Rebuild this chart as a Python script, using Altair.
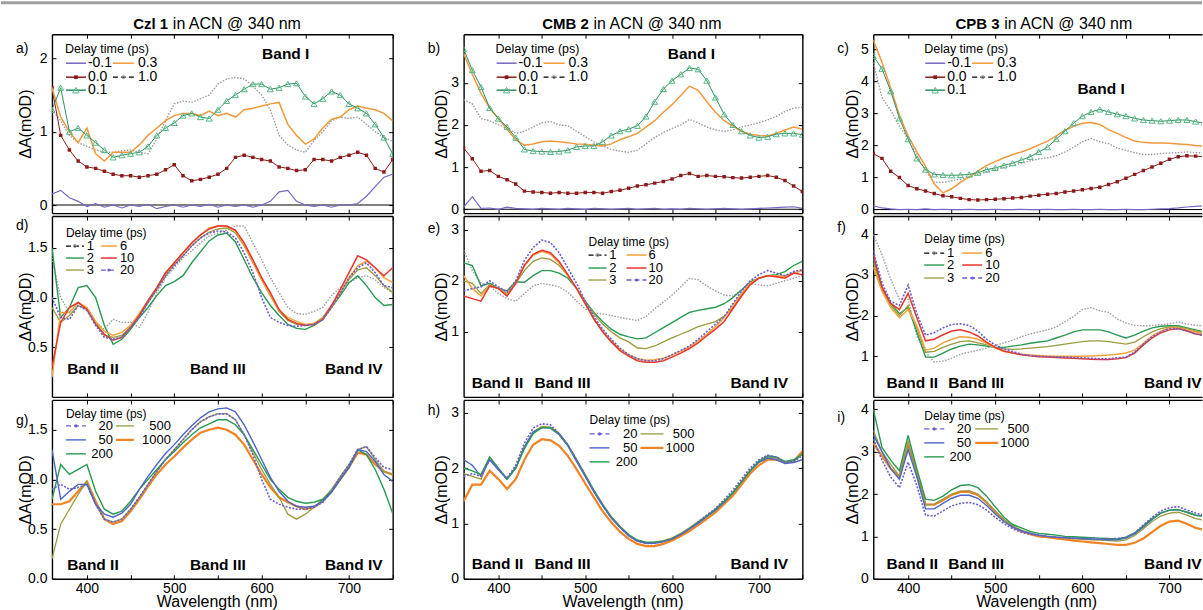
import altair as alt
import pandas as pd

# ---------------- data (10 nm grid) ----------------
WL = list(range(360, 751, 10))

# Row 1 : delay times -0.1, 0.0, 0.1, 0.3, 1.0 ps
A_M01 = [0.15,0.2,0.1,0.05,-0.02,0.02,-0.03,0.0,-0.04,0.0,-0.02,0.01,-0.05,-0.02,0.0,-0.03,0.0,-0.02,0.01,-0.03,
         0.0,-0.02,0.0,-0.03,0.0,0.05,0.18,0.2,0.05,0.0,-0.02,0.0,-0.03,0.0,0.0,0.02,0.12,0.25,0.38,0.42]
A_00 = [1.6,0.95,0.75,0.6,0.52,0.5,0.46,0.42,0.4,0.4,0.38,0.4,0.42,0.48,0.55,0.4,0.33,0.35,0.38,0.42,
        0.5,0.65,0.68,0.65,0.62,0.6,0.52,0.5,0.47,0.48,0.62,0.62,0.6,0.65,0.68,0.72,0.68,0.5,0.45,0.62]
A_01 = [1.3,1.6,1.0,1.05,0.95,0.85,0.75,0.65,0.68,0.7,0.72,0.8,0.95,1.05,1.12,1.22,1.25,1.2,1.18,1.3,
        1.42,1.5,1.58,1.65,1.65,1.58,1.6,1.65,1.66,1.48,1.38,1.45,1.55,1.5,1.38,1.32,1.25,1.1,0.92,0.7]
A_03 = [1.6,1.2,1.0,0.85,1.05,0.7,0.6,0.72,0.72,0.72,0.82,0.95,1.05,1.15,1.22,1.25,1.25,1.22,1.28,1.22,
        1.25,1.2,1.3,1.32,1.35,1.38,1.4,1.1,0.95,0.83,0.9,1.05,1.17,1.2,1.3,1.35,1.32,1.3,1.25,1.15]
A_10 = [1.3,1.15,0.95,0.85,0.8,0.75,0.72,0.72,0.74,0.75,0.72,0.7,0.9,1.15,1.38,1.42,1.4,1.45,1.5,1.65,
        1.72,1.74,1.72,1.62,1.5,1.3,0.95,0.82,0.75,0.72,0.88,1.0,1.15,1.2,1.18,1.2,1.1,1.0,0.92,0.87]

B_M01 = [0.05,0.3,0.02,0.03,0.0,0.05,0.02,0.01,0.0,0.02,0.01,0.0,0.02,0.01,0.0,0.02,0.01,0.0,0.01,0.02,
         0.0,0.01,0.02,0.0,0.01,0.0,0.02,0.01,0.0,0.01,0.02,0.01,0.0,0.01,0.02,0.03,0.04,0.05,0.06,0.02]
B_00 = [1.45,1.2,0.9,0.92,0.78,0.7,0.6,0.43,0.41,0.4,0.38,0.4,0.38,0.38,0.4,0.4,0.38,0.42,0.45,0.5,
        0.55,0.58,0.62,0.66,0.72,0.8,0.85,0.78,0.8,0.78,0.77,0.75,0.74,0.76,0.78,0.8,0.76,0.68,0.55,0.42]
B_01 = [3.8,3.3,2.9,2.4,2.15,1.95,1.7,1.42,1.38,1.37,1.36,1.37,1.4,1.48,1.5,1.5,1.6,1.75,1.85,1.9,
        1.98,2.2,2.55,2.85,3.05,3.2,3.35,3.32,3.05,2.65,2.25,2.0,1.85,1.75,1.7,1.72,1.78,1.8,1.8,1.77]
B_03 = [3.7,3.2,2.75,2.4,2.15,1.9,1.65,1.52,1.55,1.6,1.62,1.6,1.58,1.55,1.54,1.52,1.5,1.55,1.65,1.72,
        1.8,1.95,2.1,2.3,2.48,2.7,2.92,2.82,2.55,2.3,2.1,1.97,1.85,1.78,1.75,1.74,1.8,1.88,1.95,1.9]
B_10 = [2.6,2.5,2.15,2.1,2.0,1.92,1.8,1.85,1.95,2.05,2.08,2.0,1.98,1.85,1.72,1.6,1.5,1.42,1.38,1.35,
        1.4,1.55,1.7,1.82,1.92,2.0,2.13,2.05,1.95,1.88,1.85,1.88,1.95,2.0,2.05,2.12,2.2,2.32,2.4,2.42]

C_M01 = [0.12,0.05,0.02,0.0,0.01,0.0,0.02,0.0,0.01,0.0,0.0,0.01,0.0,0.0,0.01,0.0,0.0,0.01,0.0,0.0,
         0.01,0.0,0.0,0.01,0.0,0.0,0.01,0.0,0.0,0.01,0.0,0.0,0.01,0.02,0.03,0.05,0.08,0.1,0.12,0.1]
C_00 = [1.75,1.6,1.2,1.0,0.75,0.65,0.58,0.5,0.43,0.4,0.35,0.31,0.3,0.31,0.32,0.34,0.36,0.38,0.42,0.45,
        0.48,0.5,0.55,0.58,0.62,0.66,0.7,0.78,0.87,0.98,1.1,1.22,1.33,1.45,1.57,1.65,1.68,1.67,1.65,1.64]
C_01 = [4.8,4.4,3.7,2.85,2.2,1.6,1.25,1.1,1.08,1.07,1.08,1.1,1.15,1.25,1.3,1.38,1.45,1.55,1.65,1.8,
        1.95,2.2,2.45,2.7,2.92,3.05,3.13,3.05,2.98,2.92,2.85,2.8,2.78,2.76,2.78,2.8,2.8,2.75,2.7,2.68]
C_03 = [5.3,4.6,3.8,2.95,2.3,1.8,1.35,0.8,0.52,0.65,0.85,1.02,1.2,1.38,1.5,1.62,1.72,1.8,1.9,2.02,
        2.14,2.3,2.48,2.6,2.7,2.72,2.66,2.5,2.38,2.25,2.14,2.1,2.08,2.08,2.07,2.05,2.03,2.0,1.98,1.97]
C_10 = [4.6,3.5,3.1,2.6,2.2,1.7,1.2,0.85,0.85,0.9,0.95,1.0,1.1,1.18,1.25,1.32,1.38,1.45,1.52,1.58,
        1.62,1.68,1.8,1.95,2.12,2.22,2.12,2.06,1.92,1.85,1.78,1.72,1.72,1.75,1.77,1.78,1.8,1.78,1.77,1.75]

# Row 2 : delay times 1, 2, 3, 6, 10, 20 ps
D_1 = [1.4,1.0,0.85,0.95,0.9,0.75,0.68,0.78,0.75,0.75,0.7,0.85,1.05,1.2,1.3,1.4,1.47,1.55,1.62,1.65,
       1.68,1.72,1.72,1.55,1.38,1.2,1.05,0.9,0.84,0.83,0.86,0.9,1.02,1.1,1.15,1.2,1.22,1.18,1.1,1.05]
D_2 = [1.5,0.8,0.9,1.1,1.12,1.0,0.72,0.53,0.58,0.68,0.8,0.9,1.02,1.12,1.16,1.22,1.35,1.46,1.57,1.63,
       1.65,1.56,1.38,1.2,1.05,0.92,0.82,0.73,0.69,0.68,0.72,0.78,0.9,1.02,1.15,1.22,1.12,1.0,0.92,0.93]
D_3 = [0.9,0.75,0.82,0.92,0.88,0.75,0.62,0.6,0.62,0.7,0.82,0.95,1.08,1.22,1.33,1.42,1.52,1.6,1.66,1.69,
       1.7,1.65,1.52,1.35,1.18,1.02,0.86,0.77,0.73,0.72,0.74,0.8,0.92,1.05,1.18,1.28,1.3,1.22,1.12,1.05]
D_6 = [0.2,0.85,0.85,0.95,0.9,0.76,0.66,0.62,0.65,0.72,0.84,0.97,1.1,1.24,1.35,1.45,1.55,1.63,1.7,1.72,
       1.72,1.67,1.53,1.36,1.18,1.02,0.87,0.8,0.76,0.73,0.74,0.79,0.9,1.05,1.2,1.32,1.37,1.3,1.2,1.15]
D_10 = [0.3,0.75,0.9,0.95,0.88,0.73,0.63,0.57,0.6,0.7,0.82,0.97,1.1,1.25,1.35,1.45,1.55,1.63,1.69,1.72,
        1.72,1.68,1.55,1.38,1.2,1.05,0.88,0.78,0.74,0.72,0.73,0.78,0.92,1.08,1.25,1.42,1.38,1.3,1.22,1.3]
D_20 = [1.0,0.8,0.78,0.92,0.87,0.72,0.6,0.58,0.6,0.7,0.8,0.95,1.08,1.22,1.32,1.42,1.52,1.6,1.65,1.67,
        1.66,1.6,1.45,1.25,1.0,0.8,0.75,0.72,0.71,0.72,0.73,0.78,0.9,1.04,1.2,1.3,1.35,1.25,1.12,1.1]

E_1 = [2.6,2.2,1.95,1.9,1.75,1.65,1.6,1.75,1.9,1.95,1.92,1.88,1.78,1.6,1.45,1.37,1.35,1.32,1.28,1.25,
       1.22,1.3,1.45,1.58,1.72,1.88,2.05,2.02,1.9,1.8,1.72,1.7,1.82,1.95,1.92,1.9,1.95,2.0,2.05,2.1]
E_2 = [2.35,2.3,1.9,1.95,1.85,1.8,1.98,1.97,2.1,2.2,2.2,2.15,2.05,1.85,1.6,1.38,1.2,1.05,0.95,0.9,
       0.86,0.88,0.98,1.08,1.18,1.28,1.38,1.42,1.45,1.48,1.55,1.67,1.82,1.98,2.05,2.1,2.12,2.18,2.3,2.38]
E_3 = [2.0,1.95,1.75,1.92,1.85,1.75,1.95,2.2,2.38,2.45,2.42,2.3,2.1,1.85,1.6,1.35,1.15,1.0,0.88,0.8,
       0.68,0.67,0.72,0.8,0.88,0.95,1.02,1.1,1.15,1.2,1.3,1.47,1.7,1.95,2.05,2.1,2.08,2.1,2.15,2.2]
E_6 = [2.1,1.85,1.7,1.9,1.85,1.72,1.95,2.3,2.5,2.58,2.52,2.35,2.1,1.85,1.55,1.25,1.02,0.82,0.66,0.55,
       0.47,0.44,0.45,0.48,0.54,0.62,0.7,0.82,0.95,1.1,1.28,1.52,1.75,1.95,2.05,2.1,2.1,2.08,2.15,2.2]
E_10 = [1.7,1.65,1.6,1.9,1.85,1.7,1.95,2.3,2.52,2.6,2.55,2.38,2.12,1.85,1.55,1.25,1.0,0.8,0.63,0.52,
        0.43,0.4,0.4,0.43,0.5,0.58,0.67,0.78,0.92,1.05,1.2,1.45,1.7,1.92,2.05,2.1,2.08,2.05,2.15,2.12]
E_20 = [1.8,1.85,1.88,2.0,1.88,1.78,2.0,2.4,2.65,2.8,2.75,2.55,2.25,1.95,1.6,1.3,1.05,0.85,0.68,0.55,
        0.47,0.43,0.43,0.47,0.55,0.63,0.72,0.85,1.0,1.15,1.3,1.55,1.8,2.0,2.12,2.2,2.15,2.1,2.18,2.22]

F_1 = [4.0,3.5,2.9,2.4,2.4,1.5,1.1,0.86,0.88,0.95,1.05,1.1,1.15,1.2,1.27,1.33,1.4,1.48,1.55,1.6,
       1.65,1.72,1.85,1.98,2.15,2.2,2.12,2.08,1.92,1.82,1.76,1.75,1.76,1.78,1.8,1.84,1.8,1.76,1.75,1.74]
F_2 = [3.4,2.7,2.3,2.05,2.2,1.6,0.98,0.98,1.08,1.18,1.25,1.3,1.28,1.25,1.22,1.22,1.25,1.28,1.32,1.35,
       1.38,1.45,1.52,1.6,1.65,1.65,1.65,1.6,1.52,1.45,1.52,1.62,1.7,1.74,1.75,1.75,1.7,1.65,1.6,1.58]
F_3 = [3.3,2.65,2.25,2.0,2.25,1.7,1.1,1.12,1.22,1.3,1.36,1.38,1.33,1.28,1.22,1.18,1.17,1.18,1.2,1.22,
       1.24,1.27,1.3,1.33,1.36,1.38,1.38,1.36,1.33,1.3,1.35,1.48,1.6,1.68,1.72,1.72,1.68,1.62,1.58,1.55]
F_6 = [3.2,2.6,2.2,1.95,2.15,1.75,1.15,1.2,1.33,1.42,1.48,1.47,1.42,1.32,1.2,1.12,1.08,1.05,1.03,1.02,
       1.01,1.0,1.0,1.0,1.0,1.01,1.02,1.03,1.05,1.08,1.15,1.32,1.5,1.62,1.7,1.7,1.65,1.6,1.55,1.52]
F_10 = [3.5,2.7,2.3,2.15,2.55,1.95,1.38,1.42,1.53,1.62,1.65,1.6,1.5,1.35,1.22,1.13,1.08,1.04,1.01,0.99,
        0.98,0.97,0.96,0.95,0.94,0.93,0.92,0.92,0.94,0.97,1.08,1.28,1.45,1.58,1.65,1.68,1.62,1.55,1.52,1.5]
F_20 = [3.6,2.8,2.35,2.25,2.75,2.05,1.52,1.58,1.7,1.78,1.8,1.76,1.62,1.42,1.28,1.18,1.12,1.05,1.02,1.0,
        0.99,0.98,0.98,0.97,0.96,0.95,0.94,0.94,0.96,0.98,1.1,1.3,1.48,1.6,1.68,1.68,1.62,1.55,1.5,1.48]

# Row 3 : delay times 20, 50, 200, 500, 1000 ps
G_20 = [0.9,0.95,0.9,0.92,0.95,0.75,0.6,0.57,0.6,0.7,0.82,0.95,1.08,1.2,1.3,1.4,1.5,1.58,1.63,1.66,
        1.66,1.6,1.45,1.25,1.0,0.8,0.75,0.72,0.7,0.7,0.72,0.77,0.88,1.02,1.15,1.3,1.33,1.22,1.12,1.1]
G_50 = [1.3,0.8,0.88,0.95,0.95,0.75,0.65,0.62,0.66,0.75,0.9,1.03,1.15,1.26,1.35,1.45,1.54,1.62,1.68,1.71,
        1.72,1.68,1.55,1.38,1.2,1.02,0.88,0.78,0.73,0.72,0.73,0.78,0.87,1.0,1.12,1.3,1.28,1.18,1.05,0.98]
G_200 = [0.8,1.15,1.05,1.1,1.15,0.88,0.7,0.65,0.68,0.78,0.9,1.0,1.1,1.2,1.28,1.37,1.45,1.52,1.56,1.6,
         1.6,1.55,1.45,1.3,1.15,1.0,0.9,0.82,0.78,0.76,0.77,0.8,0.88,1.0,1.12,1.3,1.25,1.1,0.9,0.66]
G_500 = [0.2,0.55,0.7,0.85,0.98,0.75,0.6,0.57,0.6,0.7,0.82,0.95,1.08,1.2,1.3,1.4,1.5,1.58,1.63,1.66,
         1.66,1.6,1.45,1.27,1.1,0.95,0.82,0.65,0.6,0.65,0.72,0.8,0.9,1.03,1.15,1.3,1.33,1.2,1.08,1.05]
G_1000 = [0.75,0.75,0.78,0.88,0.98,0.78,0.6,0.55,0.58,0.68,0.8,0.93,1.05,1.15,1.23,1.32,1.4,1.47,1.5,1.52,
          1.5,1.45,1.35,1.2,1.05,0.92,0.82,0.77,0.73,0.7,0.72,0.78,0.88,1.0,1.12,1.27,1.25,1.15,1.08,1.05]

H_20 = [1.85,1.9,1.85,2.15,1.98,1.82,2.05,2.45,2.72,2.8,2.78,2.62,2.42,2.15,1.86,1.58,1.33,1.1,0.93,0.78,
        0.68,0.64,0.64,0.67,0.72,0.8,0.9,1.03,1.15,1.27,1.43,1.6,1.8,2.0,2.15,2.23,2.2,2.1,2.12,2.22]
H_50 = [2.15,2.05,1.85,2.15,1.97,1.8,2.0,2.38,2.65,2.73,2.72,2.6,2.4,2.12,1.85,1.57,1.32,1.1,0.93,0.78,
        0.68,0.64,0.64,0.67,0.72,0.8,0.9,1.0,1.12,1.24,1.38,1.55,1.75,1.95,2.1,2.18,2.15,2.08,2.1,2.15]
H_200 = [2.0,1.95,1.88,2.2,2.0,1.8,2.0,2.35,2.62,2.73,2.73,2.62,2.42,2.15,1.88,1.6,1.35,1.12,0.95,0.8,
         0.7,0.66,0.66,0.68,0.72,0.8,0.9,1.02,1.13,1.25,1.4,1.55,1.75,1.95,2.12,2.22,2.2,2.12,2.15,2.25]
H_500 = [1.9,1.85,1.8,2.2,1.97,1.8,2.0,2.38,2.65,2.75,2.74,2.63,2.42,2.15,1.87,1.58,1.33,1.1,0.93,0.78,
         0.68,0.65,0.66,0.69,0.74,0.82,0.92,1.03,1.14,1.26,1.4,1.56,1.76,1.96,2.12,2.2,2.18,2.1,2.12,2.25]
H_1000 = [1.4,1.7,1.7,1.95,1.8,1.62,1.8,2.15,2.42,2.52,2.5,2.4,2.22,1.98,1.72,1.47,1.22,1.02,0.85,0.72,
          0.63,0.59,0.59,0.63,0.69,0.77,0.86,0.97,1.08,1.2,1.35,1.5,1.7,1.9,2.05,2.15,2.15,2.1,2.12,2.3]

I_20 = [3.3,2.8,2.4,2.15,2.75,2.2,1.5,1.48,1.6,1.72,1.78,1.8,1.75,1.62,1.45,1.3,1.18,1.1,1.05,1.02,
        1.0,0.98,0.97,0.96,0.95,0.95,0.94,0.94,0.95,0.98,1.08,1.27,1.45,1.6,1.68,1.7,1.62,1.55,1.5,1.48]
I_50 = [3.4,3.0,2.6,2.35,3.05,2.4,1.65,1.65,1.78,1.9,1.97,1.97,1.9,1.73,1.53,1.35,1.22,1.13,1.07,1.03,
        1.0,0.98,0.97,0.96,0.95,0.94,0.93,0.92,0.92,0.96,1.06,1.22,1.4,1.55,1.62,1.63,1.57,1.5,1.48,1.5]
I_200 = [4.0,3.1,2.8,2.55,3.38,2.6,1.88,1.85,1.95,2.1,2.2,2.22,2.15,1.95,1.7,1.45,1.28,1.2,1.12,1.07,
         1.05,1.03,1.0,0.99,0.98,0.97,0.96,0.95,0.94,0.98,1.08,1.25,1.42,1.55,1.62,1.63,1.57,1.5,1.47,1.47]
I_500 = [3.5,3.0,2.7,2.42,3.2,2.5,1.75,1.76,1.88,2.0,2.07,2.08,2.0,1.82,1.6,1.4,1.25,1.15,1.08,1.03,
         1.0,0.98,0.96,0.94,0.93,0.92,0.91,0.9,0.89,0.92,1.02,1.18,1.35,1.48,1.55,1.57,1.5,1.42,1.38,1.37]
I_1000 = [3.2,2.9,2.6,2.4,3.2,2.5,1.75,1.75,1.85,1.98,2.05,2.05,1.98,1.8,1.58,1.38,1.22,1.12,1.05,1.0,
          0.98,0.95,0.93,0.9,0.88,0.86,0.84,0.82,0.8,0.8,0.85,0.95,1.1,1.25,1.35,1.37,1.3,1.2,1.15,1.12]

TITLES = [("Czl 1", "in ACN @ 340 nm"), ("CMB 2", "in ACN @ 340 nm"), ("CPB 3", "in ACN @ 340 nm")]
Y_TITLE = "ΔA(mOD)"
X_TITLE = "Wavelength (nm)"
LEG_TITLE = "Delay time (ps)"

# ---------------- styles ----------------
FONT = "Liberation Sans"
PURPLE = "#7567c8"; ORANGE = "#f3983b"; DARKRED = "#8b1b1b"; GREEN1 = "#2f8f5e"; TRI = "#52b785"
GRAY = "#9c9c9c"; GREEN = "#279a52"; OLIVE = "#9a9a3e"; ORANGE2 = "#f6a23a"; RED = "#e7362c"
PURPLE2 = "#6a5cd0"; BLUE = "#4a66c6"; ORANGE3 = "#f28222"

LINE = {
    "m01": {"color": PURPLE, "width": 1.2},
    "03": {"color": ORANGE, "width": 1.5},
    "00": {"color": DARKRED, "width": 1.0, "marker": ("square", True, 12, DARKRED)},
    "01": {"color": GREEN1, "width": 1.0, "marker": ("triangle-up", False, 36, TRI)},
    "gray": {"color": GRAY, "width": 1.4, "dash": [1.5, 1.5]},
    "2": {"color": GREEN, "width": 1.4},
    "3": {"color": OLIVE, "width": 1.3},
    "6": {"color": ORANGE2, "width": 1.5},
    "10": {"color": RED, "width": 1.5},
    "20": {"color": PURPLE2, "width": 1.6, "dash": [2, 1.5]},
    "50": {"color": BLUE, "width": 1.4},
    "200": {"color": GREEN, "width": 1.4},
    "500": {"color": OLIVE, "width": 1.3},
    "1000": {"color": ORANGE3, "width": 2.2},
}
LEGEND = dict(LINE)
LEGEND.update({
    "m01": {"color": PURPLE, "width": 1.5},
    "00": {"color": DARKRED, "width": 1.5, "marker": ("square", True, 14, DARKRED)},
    "01": {"color": GREEN1, "width": 1.5, "marker": ("triangle-up", False, 40, TRI)},
    "gray": {"color": "black", "width": 1.2, "dash": [5, 3], "marker": ("circle", False, 10, GRAY)},
    "20": {"color": PURPLE2, "width": 1.3, "dash": [5, 3], "marker": ("circle", True, 10, PURPLE2)},
})

ROW1_ENTRIES = [(0, 0, "-0.1", "m01"), (0, 1, "0.0", "00"), (0, 2, "0.1", "01"),
                (1, 0, "0.3", "03"), (1, 1, "1.0", "gray")]
ROW2_ENTRIES = [(0, 0, "1", "gray"), (0, 1, "2", "2"), (0, 2, "3", "3"),
                (1, 0, "6", "6"), (1, 1, "10", "10"), (1, 2, "20", "20")]
ROW3_ENTRIES = [(0, 0, "20", "20"), (0, 1, "50", "50"), (0, 2, "200", "200"),
                (1, 0, "500", "500"), (1, 1, "1000", "1000")]


def leg1(x0):
    return dict(x0=x0, ty=15, rows=[29, 43, 56], fs=14, tfs=12.5,
                cols=[(x0 + 1, x0 + 21, x0 + 23, "left"), (x0 + 48, x0 + 69, x0 + 73, "left")],
                entries=ROW1_ENTRIES)


PANELS = {
    "a": dict(series=[(A_10, "gray"), (A_00, "00"), (A_03, "03"), (A_01, "01"), (A_M01, "m01")],
              ydom=[-0.11, 2.33], yticks=[0, 1, 2], fmt="d", zero=True, legend=leg1(13),
              bands=[("Band I", 234, 20, "center")], letter=("a)", -36, 15)),
    "b": dict(series=[(B_10, "gray"), (B_00, "00"), (B_03, "03"), (B_01, "01"), (B_M01, "m01")],
              ydom=[-0.09, 4.15], yticks=[0, 1, 2, 3], fmt="d", zero=True, legend=leg1(32),
              bands=[("Band I", 228, 20, "center")], letter=("b)", -36, 15)),
    "c": dict(series=[(C_10, "gray"), (C_00, "00"), (C_03, "03"), (C_01, "01"), (C_M01, "m01")],
              ydom=[-0.11, 5.48], yticks=[0, 1, 2, 3, 4, 5], fmt="d", zero=True, legend=leg1(51),
              bands=[("Band I", 228, 55, "center")], letter=("c)", -36, 15)),
    "d": dict(series=[(D_1, "gray"), (D_2, "2"), (D_3, "3"), (D_6, "6"), (D_10, "10"), (D_20, "20")],
              ydom=[0, 1.82], yticks=[0.5, 1.0, 1.5], fmt=".1f", zero=False,
              legend=dict(x0=14, ty=17, rows=[30, 42, 54], fs=13, tfs=12,
                          cols=[(14, 32, 42, "right"), (49, 65, 68, "left")], entries=ROW2_ENTRIES),
              bands=[("Band II", 41, 153, "center"), ("Band III", 166, 153, "center"), ("Band IV", 302, 153, "center")],
              letter=("d)", -36, 10)),
    "e": dict(series=[(E_1, "gray"), (E_2, "2"), (E_3, "3"), (E_6, "6"), (E_10, "10"), (E_20, "20")],
              ydom=[-0.28, 3.27], yticks=[1, 2, 3], fmt="d", zero=False,
              legend=dict(x0=125, ty=26, rows=[39, 52, 64], fs=13, tfs=12,
                          cols=[(125, 143, 153, "right"), (163, 183, 185, "left")], entries=ROW2_ENTRIES),
              bands=[("Band II", 34, 167, "center"), ("Band III", 99, 167, "center"), ("Band IV", 296, 167, "center")],
              letter=("e)", -36, 13)),
    "f": dict(series=[(F_1, "gray"), (F_2, "2"), (F_3, "3"), (F_6, "6"), (F_10, "10"), (F_20, "20")],
              ydom=[0, 4.45], yticks=[1, 2, 3, 4], fmt="d", zero=False,
              legend=dict(x0=51, ty=23, rows=[37, 49, 62], fs=13, tfs=12,
                          cols=[(51, 71, 81, "right"), (89, 109, 112, "left")], entries=ROW2_ENTRIES),
              bands=[("Band II", 39, 167, "center"), ("Band III", 103, 167, "center"), ("Band IV", 271, 167, "left")],
              letter=("f)", -36, 12)),
    "g": dict(series=[(G_1000, "1000"), (G_500, "500"), (G_200, "200"), (G_20, "20"), (G_50, "50")],
              ydom=[0, 1.8], yticks=[0.0, 0.5, 1.0, 1.5], fmt=".1f", zero=False,
              legend=dict(x0=14, ty=14, rows=[26, 40, 54], fs=13, tfs=12,
                          cols=[(14, 34, 61, "right"), (64, 82, 119, "right")], entries=ROW3_ENTRIES),
              bands=[("Band II", 41, 165, "center"), ("Band III", 166, 165, "center"), ("Band IV", 302, 165, "center")],
              letter=("g)", -36, 21)),
    "h": dict(series=[(H_1000, "1000"), (H_500, "500"), (H_50, "50"), (H_200, "200"), (H_20, "20")],
              ydom=[0, 3.23], yticks=[0, 1, 2, 3], fmt="d", zero=False,
              legend=dict(x0=126, ty=20, rows=[34, 48, 62], fs=13, tfs=12,
                          cols=[(126, 146, 174, "right"), (177, 200, 231, "right")], entries=ROW3_ENTRIES),
              bands=[("Band II", 34, 164, "center"), ("Band III", 99, 164, "center"), ("Band IV", 296, 164, "center")],
              letter=("h)", -36, 11)),
    "i": dict(series=[(I_1000, "1000"), (I_500, "500"), (I_50, "50"), (I_200, "200"), (I_20, "20")],
              ydom=[0, 4.22], yticks=[0, 1, 2, 3, 4], fmt="d", zero=False,
              legend=dict(x0=51, ty=16, rows=[29, 43, 57], fs=13, tfs=12,
                          cols=[(51, 71, 98, "right"), (102, 125, 156, "right")], entries=ROW3_ENTRIES),
              bands=[("Band II", 39, 164, "center"), ("Band III", 103, 164, "center"), ("Band IV", 271, 164, "left")],
              letter=("i)", -36, 18)),
}
for _k, _p in PANELS.items():
    for _vals, _s in _p["series"]:
        assert len(_vals) == len(WL), (_k, _s, len(_vals))

GRID = [["a", "b", "c"], ["d", "e", "f"], ["g", "h", "i"]]
COL_W = [341, 339, 329]
COL_XDOM = [[360, 750], [360, 750], [360, 737.3]]
COL_XT = [[400, 450, 500, 550, 600, 650, 700, 750], [400, 450, 500, 550, 600, 650, 700, 750],
          [400, 450, 500, 550, 600, 650, 700]]
ROW_H = [179, 181, 179]
YT_X = [-26, -22.5, -20.5]
XT_X = [165, 159, 163]
TITLE_POS = [(116.3, 121), (125.3, 130), (126.3, 131)]

ONE = pd.DataFrame({"k": [0]})
TICK = {"expr": "-4"}


def txt(t, x, y, size, align="left", weight="normal", baseline="middle"):
    return alt.Chart(ONE).mark_text(text=t, font=FONT, fontSize=size, fontWeight=weight,
                                    align=align, baseline=baseline, color="black").encode(
        x=alt.value(x), y=alt.value(y))


def seg(x1, x2, y, st):
    kw = dict(color=st["color"], strokeWidth=st["width"])
    if "dash" in st:
        kw["strokeDash"] = st["dash"]
    return alt.Chart(ONE).mark_rule(**kw).encode(x=alt.value(x1), x2=alt.value(x2), y=alt.value(y))


def dot(x, y, mk):
    shape, filled, size, color = mk
    return alt.Chart(ONE).mark_point(shape=shape, filled=filled, size=size, color=color,
                                     opacity=1, strokeWidth=1).encode(x=alt.value(x), y=alt.value(y))


def build(key, col, row):
    P = PANELS[key]
    w, h = COL_W[col], ROW_H[row]
    xs = alt.Scale(domain=COL_XDOM[col], nice=False, zero=False)
    ys = alt.Scale(domain=P["ydom"], nice=False, zero=False)
    last = row == 2
    fdf = pd.DataFrame({"wl": [COL_XDOM[col][0]], "val": [P["ydom"][0]]})

    if last:
        bax = alt.Axis(orient="bottom", values=COL_XT[col], tickSize=TICK, labels=True,
                       labelExpr="datum.value % 100 === 0 ? datum.label : ''",
                       labelPadding=7, labelFontSize=14, labelOverlap=False, labelFlush=False,
                       title=X_TITLE, titleFontSize=16, titleFontWeight="normal",
                       titleX=XT_X[col], titleY=28, titleBaseline="alphabetic", titleAlign="center")
        xenc = alt.X("wl:Q", scale=xs, axis=bax)
    else:
        bax = alt.Axis(orient="bottom", values=COL_XT[col], tickSize=TICK, labels=False)
        xenc = alt.X("wl:Q", scale=xs, axis=bax, title=None)
    lax = alt.Axis(orient="left", values=P["yticks"], format=P["fmt"], tickSize=TICK,
                   labelPadding=9, labelFontSize=14, labelFlush=False, labelOverlap=False,
                   title=Y_TITLE, titleFontSize=16, titleFontWeight="normal",
                   titleX=YT_X[col], titleY=h / 2, titleAngle=270, titleAlign="center",
                   titleBaseline="middle")
    frame = alt.Chart(fdf).mark_point(opacity=0).encode(x=xenc, y=alt.Y("val:Q", scale=ys, axis=lax))

    tax = alt.Axis(orient="top", values=COL_XT[col], tickSize=TICK, labels=False)
    if col < 2:
        rax = alt.Axis(orient="right", values=P["yticks"], tickSize=TICK, labels=False)
        yenc2 = alt.Y("val:Q", scale=ys, axis=rax, title=None)
    else:
        yenc2 = alt.Y("val:Q", scale=ys, axis=None)
    frame2 = alt.Chart(fdf).mark_point(opacity=0).encode(
        x=alt.X("wl:Q", scale=xs, axis=tax, title=None), y=yenc2)

    layers = [frame, frame2]
    if P["zero"]:
        zdf = pd.DataFrame({"val": [0.0]})
        layers.append(alt.Chart(zdf).mark_rule(color="black", strokeWidth=1).encode(
            y=alt.Y("val:Q", scale=ys, axis=None)))

    for vals, skey in P["series"]:
        st = LINE[skey]
        df = pd.DataFrame({"wl": WL, "val": vals})
        base = alt.Chart(df).encode(x=alt.X("wl:Q", scale=xs, axis=None),
                                    y=alt.Y("val:Q", scale=ys, axis=None))
        kw = dict(color=st["color"], strokeWidth=st["width"], clip=True)
        if "dash" in st:
            kw["strokeDash"] = st["dash"]
        layers.append(base.mark_line(**kw))
        if "marker" in st:
            shape, filled, size, color = st["marker"]
            layers.append(base.mark_point(shape=shape, filled=filled, size=size, color=color,
                                          opacity=1, strokeWidth=1, clip=True))

    L = P["legend"]
    layers.append(txt(LEG_TITLE, L["x0"], L["ty"], L["tfs"]))
    for c, r, label, skey in L["entries"]:
        sa, sb, lx, la = L["cols"][c]
        y = L["rows"][r]
        st = LEGEND[skey]
        layers.append(seg(sa, sb, y, st))
        if "marker" in st:
            layers.append(dot((sa + sb) / 2, y, st["marker"]))
        layers.append(txt(label, lx, y, L["fs"], align=la))

    for t, bx, by, ba in P["bands"]:
        layers.append(txt(t, bx, by, 15.5, align=ba, weight="bold"))

    lt, lx, ly = P["letter"]
    layers.append(txt(lt, lx, ly, 14))

    if row == 0:
        bold, normal = TITLES[col]
        bx, nx = TITLE_POS[col]
        layers.append(txt(bold, bx, -5, 15, align="right", weight="bold", baseline="alphabetic"))
        layers.append(txt(normal, nx, -5, 16, align="left", baseline="alphabetic"))
        if col == 0:
            layers.append(alt.Chart(ONE).mark_rect(color="#9e9e9e").encode(
                x=alt.value(-51), x2=alt.value(1151), y=alt.value(-33), y2=alt.value(-30)))

    return alt.layer(*layers).resolve_axis(x="independent", y="independent").properties(width=w, height=h)


panels = [build(GRID[r][c], c, r) for r in range(3) for c in range(3)]

chart = alt.concat(*panels, columns=3, spacing={"row": 3, "column": 71}, bounds="flush").properties(
    padding=0).configure_view(stroke="transparent").configure_axis(
    grid=False, domainColor="black", domainWidth=1.4, tickColor="black", tickWidth=1,
    labelColor="black", titleColor="black", labelFont=FONT, titleFont=FONT)

chart.save("out.html", embed_options={"renderer": "svg", "actions": False})
